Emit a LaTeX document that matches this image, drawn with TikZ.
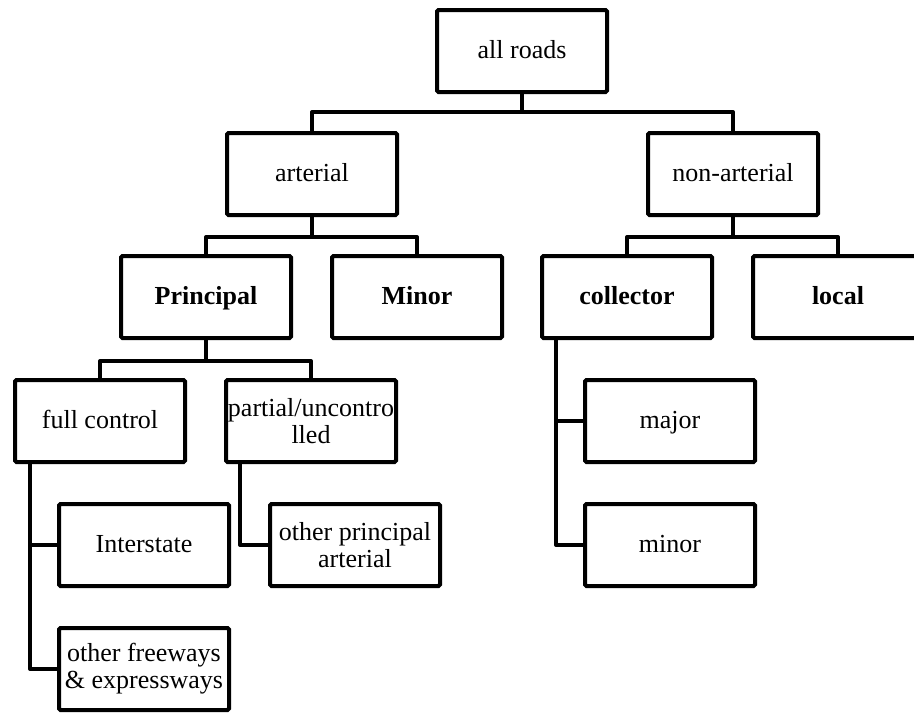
\documentclass[tikz,border=0pt]{standalone}
\usepackage{fontspec}
\setmainfont{Liberation Serif}
\usetikzlibrary{calc}

\begin{document}
\begin{tikzpicture}[x=1pt, y=-1pt,
  roadbox/.style={draw, line width=4pt, rounded corners=1.5pt,
    minimum width=170pt, minimum height=82pt, inner sep=0pt,
    align=center, font=\fontsize{26}{27}\selectfont},
  oneline/.style={roadbox, text height=20pt, text depth=6pt},
  boldbox/.style={oneline, font=\fontsize{26}{27}\selectfont\bfseries},
  link/.style={line width=4pt, line join=round}]

% Fix the picture size and cut what runs over the edge
\useasboundingbox (0,0) rectangle (914,713);
\clip (0,0) rectangle (914,713);

% Define the boxes of the tree
\node[oneline] (allroads) at (522, 51) {all roads};
\node[oneline] (arterial) at (312, 174) {arterial};
\node[oneline] (nonarterial) at (733, 174) {non-arterial};
\node[boldbox] (principal) at (206, 297) {Principal};
\node[boldbox] (minorart) at (417, 297) {Minor};
\node[boldbox] (collector) at (627, 297) {collector};
\node[boldbox] (local) at (838, 297) {local};
\node[oneline] (fullcontrol) at (100, 421) {full control};
\node[roadbox] (partial) at (311, 421) {partial/uncontro\\lled};
\node[oneline] (major) at (670, 421) {major};
\node[oneline] (minorcol) at (670, 545) {minor};
\node[oneline] (interstate) at (144, 545) {Interstate};
\node[roadbox] (otherprin) at (355, 545) {other principal\\arterial};
\node[roadbox] (freeways) at (144, 669) {other freeways\\\& expressways};

% Define the joints of the branches
\coordinate (j1) at (522, 112);
\coordinate (j2) at (312, 237);
\coordinate (j3) at (733, 237);
\coordinate (j4) at (206, 361);
\coordinate (s1) at ($(fullcontrol.south west)+(17,0)$);
\coordinate (s2) at ($(partial.south west)+(16,0)$);
\coordinate (s3) at ($(collector.south west)+(16,0)$);

% Draw the branches going down
\draw[link] (allroads.south) -- (j1);
\draw[link] (arterial.north) |- (j1) -| (nonarterial.north);
\draw[link] (arterial.south) -- (j2);
\draw[link] (principal.north) |- (j2) -| (minorart.north);
\draw[link] (nonarterial.south) -- (j3);
\draw[link] (collector.north) |- (j3) -| (local.north);
\draw[link] (principal.south) -- (j4);
\draw[link] (fullcontrol.north) |- (j4) -| (partial.north);

% Draw the branches going sideways
\draw[link] (s1) |- (freeways.west);
\draw[link] (s1 |- interstate.west) -- (interstate.west);
\draw[link] (s2) |- (otherprin.west);
\draw[link] (s3) |- (minorcol.west);
\draw[link] (s3 |- major.west) -- (major.west);

\end{tikzpicture}
\end{document}
